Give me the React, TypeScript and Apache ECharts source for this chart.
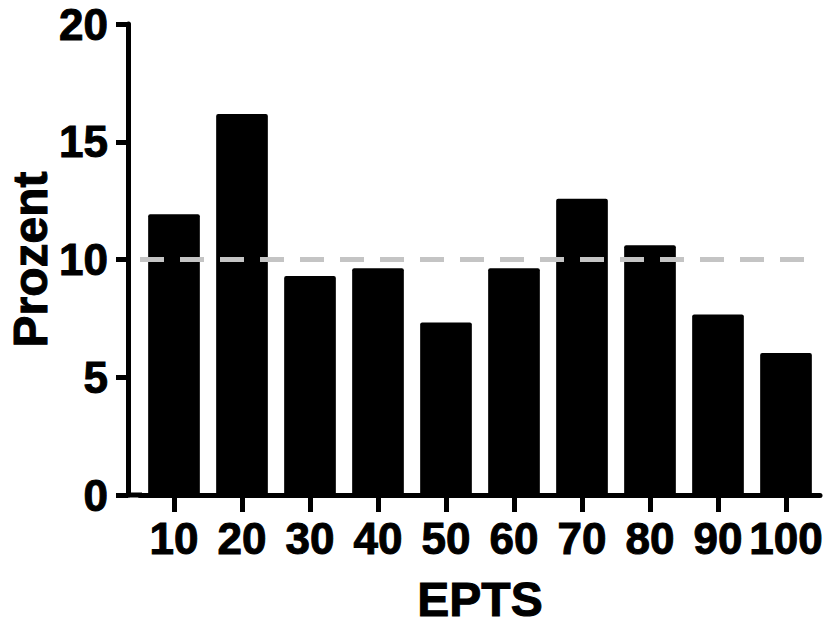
import React, { useEffect, useRef } from "react";
import * as echarts from "echarts";

const categories = ["10", "20", "30", "40", "50", "60", "70", "80", "90", "100"];
const percentValues = [11.92, 16.18, 9.3, 9.63, 7.33, 9.63, 12.58, 10.6, 7.66, 6.03];
const referenceLevel = 10;
const yTicks = { min: 0, max: 20, interval: 5 };

const FONT = "'Liberation Sans', Arial, Helvetica, sans-serif";
const heavy = { textBorderColor: "#000", textBorderWidth: 1 };

export default function App() {
  const ref = useRef<HTMLDivElement>(null);
  useEffect(() => {
    document.body.style.margin = "0";
    if (!ref.current) return;
    const chart = echarts.init(ref.current, undefined, { renderer: "svg" });
    const option: any = {
      animation: false,
      backgroundColor: "#ffffff",
      grid: { left: 140, right: 5, top: 24, bottom: 132, containLabel: false, outerBoundsMode: "none" },
      xAxis: {
        type: "category",
        data: categories,
        name: "EPTS",
        nameLocation: "middle",
        nameGap: 80,
        nameMoveOverlap: false,
        nameTextStyle: { fontFamily: FONT, fontWeight: "bold", fontSize: 48, color: "#000", lineHeight: 48, ...heavy },
        axisLine: { show: true, lineStyle: { color: "#000", width: 5 } },
        axisTick: { show: true, alignWithLabel: true, length: 17, lineStyle: { color: "#000", width: 5 } },
        axisLabel: { fontFamily: FONT, fontWeight: "bold", fontSize: 44, color: "#000", margin: 21, interval: 0, ...heavy },
        splitLine: { show: false },
      },
      yAxis: {
        type: "value",
        min: yTicks.min,
        max: yTicks.max,
        interval: yTicks.interval,
        offset: 12,
        name: "Prozent",
        nameLocation: "middle",
        nameGap: 76,
        nameMoveOverlap: false,
        nameTextStyle: { fontFamily: FONT, fontWeight: "bold", fontSize: 48, color: "#000", lineHeight: 44, ...heavy },
        axisLine: { show: true, lineStyle: { color: "#000", width: 5 } },
        axisTick: { show: true, length: 12, lineStyle: { color: "#000", width: 5 } },
        axisLabel: { fontFamily: FONT, fontWeight: "bold", fontSize: 44, color: "#000", margin: 20, ...heavy },
        splitLine: { show: false },
      },
      series: [
        {
          type: "bar",
          data: percentValues,
          barCategoryGap: "24%",
          itemStyle: { color: "#000", borderRadius: [2, 2, 0, 0] },
          markLine: {
            silent: true,
            symbol: "none",
            label: { show: false },
            lineStyle: { color: "#c4c4c4", width: 5, type: [24, 16] },
            data: [{ yAxis: referenceLevel }],
          },
        },
      ],
    };
    chart.setOption(option);
    const p0 = chart.convertToPixel({ gridIndex: 0 }, [0, 0]) as number[];
    const gridLeft = 140;
    chart.setOption({
      graphic: [
        {
          type: "line",
          shape: { x1: gridLeft - 14, y1: p0[1], x2: gridLeft + 2, y2: p0[1] },
          style: { stroke: "#000", lineWidth: 5 },
          silent: true,
        },
      ],
    });
    return () => chart.dispose();
  }, []);
  return <div ref={ref} style={{ width: 825, height: 627 }} />;
}
